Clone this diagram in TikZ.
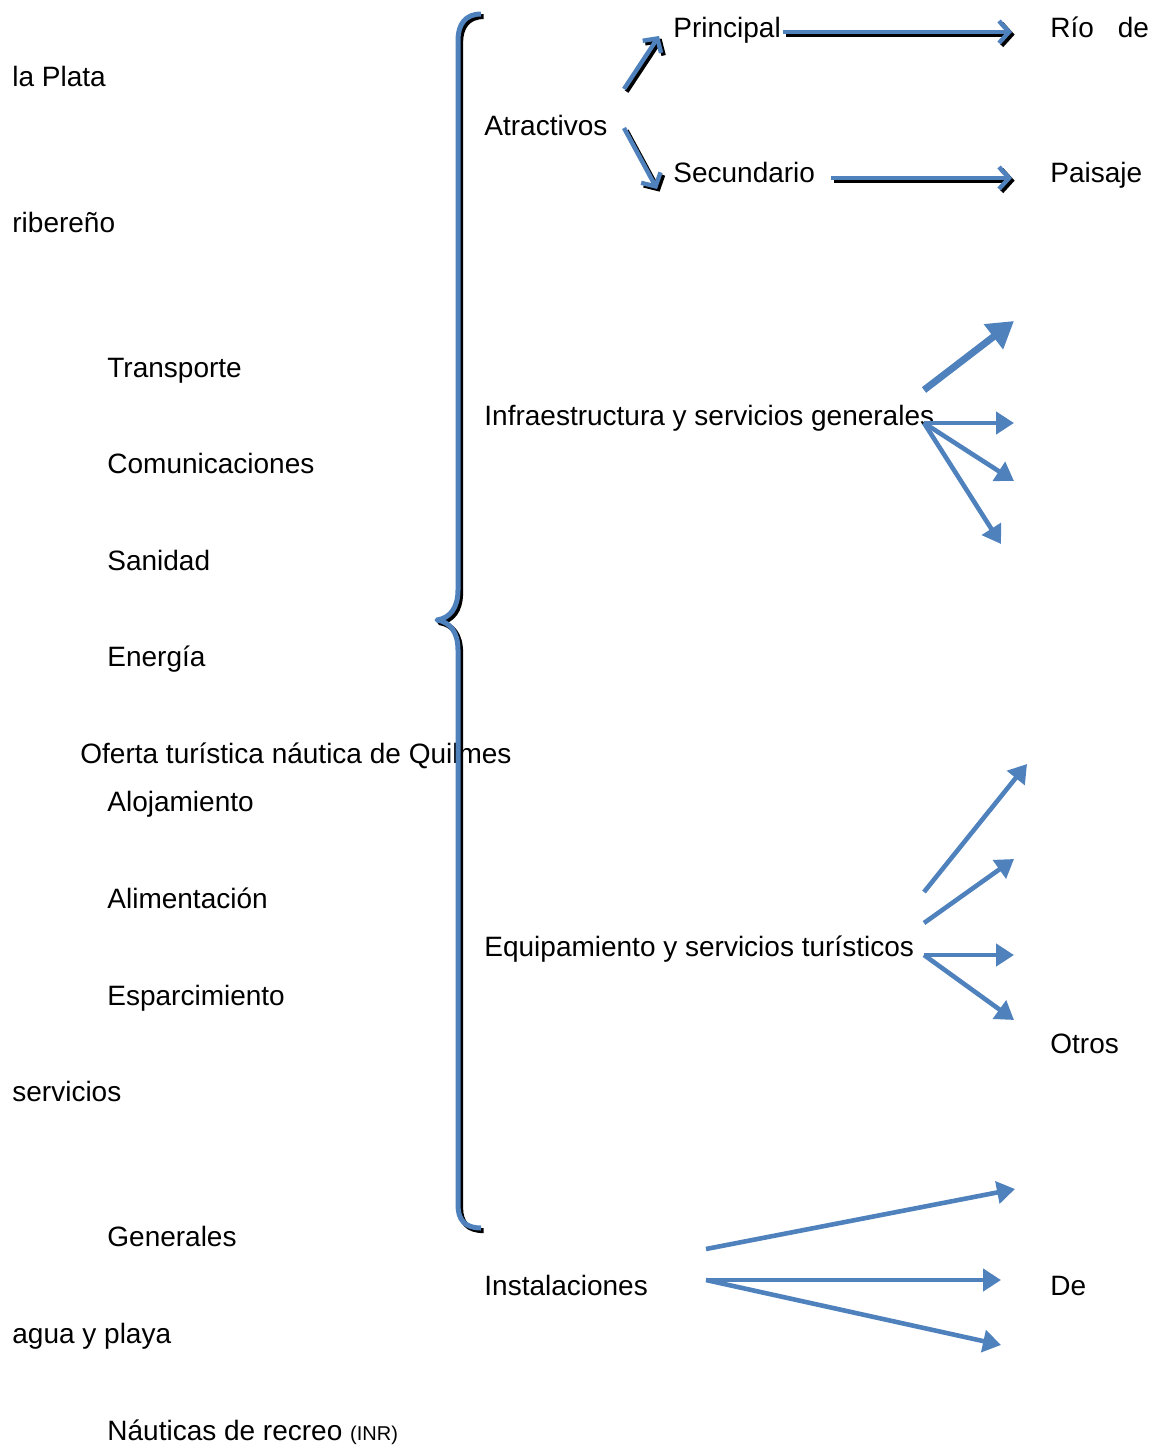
\documentclass[tikz,border=0pt]{standalone}
\usepackage{fontspec}
\setmainfont{Liberation Sans}
\usetikzlibrary{arrows.meta}

\definecolor{ofblue}{RGB}{79,129,189}

\tikzset{
  txt/.style={anchor=base west, inner sep=0pt, font=\fontsize{14}{16}\selectfont},
  shade/.style={draw=black, transform canvas={shift={(1.3pt,-1.3pt)}}},
  barb/.style={line width=2.2pt, line cap=butt, -{Straight Barb[length=5pt,width=11pt]}},
  fanline/.style={draw=ofblue, line width=2.3pt, -{Triangle[length=9pt,width=11pt]}}
}

\begin{document}
\begin{tikzpicture}[x=0.5pt, y=-0.5pt]
    \useasboundingbox (0,0) rectangle (1156,1445);

    % Texts of the left column (from the flowing text)
    \node[txt] (laplata)   at (12,87)   {la Plata};
    \node[txt] (ribereno)  at (12,232)  {ribereño};
    \node[txt] (transp)    at (107,377) {Transporte};
    \node[txt] (comun)     at (107,473) {Comunicaciones};
    \node[txt] (sanidad)   at (107,570) {Sanidad};
    \node[txt] (energia)   at (107,666) {Energía};
    \node[txt] (oferta)    at (80,763)  {Oferta turística náutica de Quilmes};
    \node[txt] (aloja)     at (107,811) {Alojamiento};
    \node[txt] (alimen)    at (107,908) {Alimentación};
    \node[txt] (esparc)    at (107,1005) {Esparcimiento};
    \node[txt] (servicios) at (12,1101) {servicios};
    \node[txt] (generales) at (107,1246) {Generales};
    \node[txt] (agua)      at (12,1343) {agua y playa};
    \node[txt] (nauticas)  at (107,1440) {Náuticas de recreo {\fontsize{10}{12}\selectfont(INR)}};

    % Big brace, black shadow first
    \foreach \col/\opt in {black/shade, ofblue/} {
      \draw[\col, line width=2.5pt, line join=round, \opt]
        (481,14) .. controls (465,14) and (458,25) .. (458,40) -- (458,590)
        .. controls (458,608) and (450,618) .. (437,620)
        .. controls (450,622) and (458,632) .. (458,650) -- (458,1205)
        .. controls (458,1220) and (465,1228) .. (481,1228);
    }

    % Middle column
    \node[txt] (atrac)  at (484,135)  {Atractivos};
    \node[txt] (infra)  at (484,425)  {Infraestructura y servicios generales};
    \node[txt] (equip)  at (484,956)  {Equipamiento y servicios turísticos};
    \node[txt] (instal) at (484,1295) {Instalaciones};

    % Atractivos
    \node[txt] (princ)   at (673,38)   {Principal};
    \node[txt] (secund)  at (673,183)  {Secundario};
    \node[txt] (rio)     at (1050,38)  {Río\hspace{0.85em}de};
    \node[txt] (paisaje) at (1050,183) {Paisaje};

    \coordinate (a1) at (624,89);   \coordinate (a2) at (659,36);
    \coordinate (a3) at (624,128);  \coordinate (a4) at (657,189);
    \coordinate (p1) at (783,32);   \coordinate (p2) at (1012,32);
    \coordinate (s1) at (831,178);  \coordinate (s2) at (1012,178);
    \foreach \u/\v in {a1/a2, a3/a4, p1/p2, s1/s2} {
      \draw[barb, shade] (\u) -- (\v);
      \draw[barb, ofblue] (\u) -- (\v);
    }

    % Infraestructura
    \coordinate (i0) at (924,390);
    \coordinate (i1) at (924,423);
    \coordinate (ia) at (1014,321);
    \coordinate (ib) at (1014,423);
    \coordinate (ic) at (1014,481);
    \coordinate (id) at (1001,544);
    \draw[fanline, line width=3.5pt, -{Triangle[length=13pt,width=15pt]}] (i0) -- (ia);
    \draw[fanline] (i1) -- (ib);
    \draw[fanline] (i1) -- (ic);
    \draw[fanline] (i1) -- (id);

    % Equipamiento
    \coordinate (e0) at (924,892);
    \coordinate (e1) at (924,923);
    \coordinate (e2) at (924,955);
    \coordinate (ea) at (1027,764);
    \coordinate (eb) at (1014,859);
    \coordinate (ec) at (1014,955);
    \coordinate (ed) at (1014,1020);
    \draw[fanline] (e0) -- (ea);
    \draw[fanline] (e1) -- (eb);
    \draw[fanline] (e2) -- (ec);
    \draw[fanline] (e2) -- (ed);
    \node[txt] (otros) at (1050,1053) {Otros};

    % Instalaciones
    \coordinate (n0) at (706,1249);
    \coordinate (n1) at (706,1280);
    \coordinate (na) at (1015,1189);
    \coordinate (nb) at (1001,1280);
    \coordinate (nc) at (1001,1345);
    \draw[fanline] (n0) -- (na);
    \draw[fanline] (n1) -- (nb);
    \draw[fanline] (n1) -- (nc);
    \node[txt] (de) at (1050,1295) {De};
\end{tikzpicture}
\end{document}
